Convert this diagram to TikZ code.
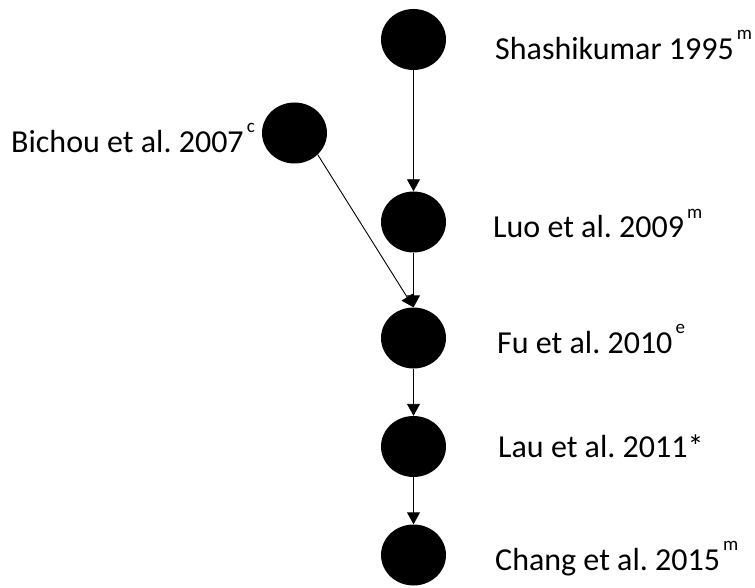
\documentclass[tikz,border=0pt]{standalone}
\usepackage{fontspec}
\setmainfont{Carlito}
\usetikzlibrary{shapes.geometric,arrows.meta}
\newcommand{\supx}[1]{\kern3pt\raisebox{20pt}{\fontsize{19}{19}\selectfont #1}}
\frenchspacing
\begin{document}
\begin{tikzpicture}[x=1pt,y=-1pt,
  dot/.style={ellipse, fill=black, draw=none, minimum width=65pt, minimum height=61pt, inner sep=0pt},
  lbl/.style={anchor=base west, inner sep=0pt, font=\fontsize{32}{38}\selectfont\frenchspacing},
  arr/.style={-{Triangle[length=12pt,width=13pt]}, line width=0.9pt}]
\useasboundingbox (0,0) rectangle (755,588);
% nodes
\node[dot] (shashi) at (413.5,39.5) {};
\node[dot] (bichou) at (294.5,133) {};
\node[dot] (luo) at (413.5,222) {};
\node[dot] (fu) at (413.5,338) {};
\node[dot] (lau) at (413.5,446.5) {};
\node[dot] (chang) at (413.5,555) {};
% labels
\node[lbl] (tshashi) at (495,60) {Shashikumar 1995\supx{m}};
\node[lbl] (tbichou) at (11,153) {Bichou et al. 2007\supx{c}};
\node[lbl] (tluo) at (493,238) {Luo et al. 2009\supx{m}};
\node[lbl] (tfu) at (497,353) {Fu et al. 2010\supx{e}};
\node[lbl] (tlau) at (498,457) {Lau et al. 2011*};
\node[lbl] (tchang) at (495,570) {Chang et al. 2015\supx{m}};
% connectors
\draw[arr] (shashi.south) -- (luo.north);
\draw[arr] (luo.south) -- (fu.north);
\draw[arr] (bichou.-43) -- (fu.north);
\draw[arr] (fu.south) -- (lau.north);
\draw[arr] (lau.south) -- (chang.north);
\end{tikzpicture}
\end{document}
